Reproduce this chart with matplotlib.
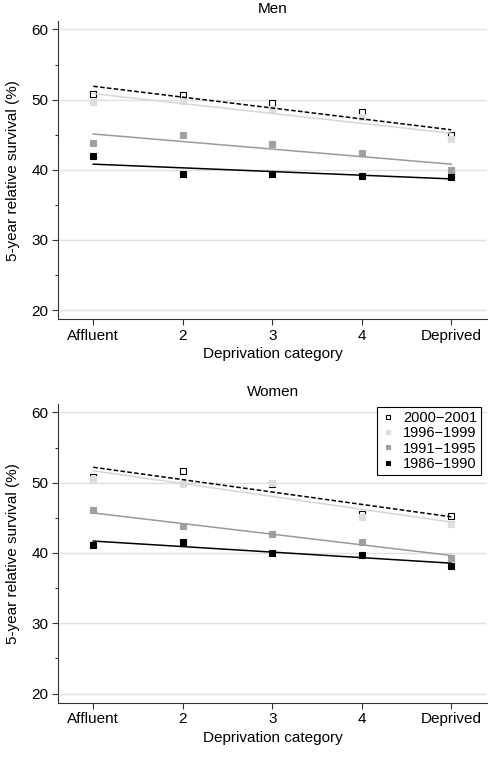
import matplotlib.pyplot as plt
import numpy as np

plt.rcParams['font.family'] = ['Liberation Sans', 'DejaVu Sans']
plt.rcParams['font.size'] = 11

# deprivation categories
categories = ['Affluent', '2', '3', '4', 'Deprived']
periods = ['2000\u22122001', '1996\u22121999', '1991\u22121995', '1986\u22121990']

men = {
    '2000\u22122001': [50.75, 50.65, 49.5, 48.2, 44.9],
    '1996\u22121999': [49.7, 49.8, 48.6, 47.5, 44.4],
    '1991\u22121995': [43.8, 44.9, 43.7, 42.4, 40.0],
    '1986\u22121990': [41.9, 39.4, 39.4, 39.1, 39.0],
}
women = {
    '2000\u22122001': [50.85, 51.65, 49.75, 45.6, 45.2],
    '1996\u22121999': [50.5, 49.75, 49.9, 45.15, 44.1],
    '1991\u22121995': [46.05, 43.8, 42.75, 41.6, 39.3],
    '1986\u22121990': [41.2, 41.5, 40.0, 39.65, 38.2],
}
# fitted trend values at Affluent and Deprived
men_fit = {
    '2000\u22122001': [51.9, 45.7],
    '1996\u22121999': [50.85, 45.2],
    '1991\u22121995': [45.1, 40.8],
    '1986\u22121990': [40.8, 38.7],
}
women_fit = {
    '2000\u22122001': [52.2, 45.15],
    '1996\u22121999': [51.7, 44.4],
    '1991\u22121995': [45.7, 39.65],
    '1986\u22121990': [41.7, 38.55],
}

styles = {
    '2000\u22122001': dict(mfc='white', mec='black', lc='black', ls=(0, (3, 1.5))),
    '1996\u22121999': dict(mfc='#dddddd', mec='#dddddd', lc='#d6d6d6', ls='-'),
    '1991\u22121995': dict(mfc='#a0a0a0', mec='#a0a0a0', lc='#9a9a9a', ls='-'),
    '1986\u22121990': dict(mfc='black', mec='black', lc='black', ls='-'),
}

fig = plt.figure(figsize=(4.9, 7.58), dpi=100)
ax1 = fig.add_axes([0.119, 0.5788, 0.875, 0.3935])
ax2 = fig.add_axes([0.119, 0.0730, 0.875, 0.3940])

x = np.arange(1, 6)

def draw(ax, data, fit, title, legend=False):
    for p in periods:
        s = styles[p]
        ax.plot(x, data[p], ls='none', marker='s', ms=4.5, mfc=s['mfc'],
                mec=s['mec'], mew=0.8, label=p, zorder=3)
    for p in periods:
        s = styles[p]
        ax.plot([x[0], x[-1]], fit[p], color=s['lc'], ls=s['ls'], lw=1.1, zorder=4)
    ax.set_xlim(0.61, 5.4)
    ax.set_ylim(18.7, 61.2)
    ax.set_xticks(x)
    ax.set_xticklabels(categories)
    ax.set_yticks([20, 30, 40, 50, 60])
    ax.set_yticks([25, 35, 45, 55], minor=True)
    ax.grid(axis='y', color='#e0e0e0', lw=1)
    ax.set_axisbelow(True)
    for sp in ['top', 'right']:
        ax.spines[sp].set_visible(False)
    for sp in ['left', 'bottom']:
        ax.spines[sp].set_linewidth(0.8)
        ax.spines[sp].set_color('#333333')
    ax.tick_params(which='major', length=4, width=0.8, color='#333333', pad=3, labelsize=11)
    ax.tick_params(which='minor', length=2.5, width=0.8, color='#333333')
    ax.set_xlabel('Deprivation category', fontsize=11, labelpad=3)
    ax.set_ylabel('5-year relative survival (%)', fontsize=11, labelpad=8)
    ax.set_title(title, fontsize=11, pad=6)
    if legend:
        leg = ax.legend(loc='upper right', bbox_to_anchor=(0.985, 0.99), borderaxespad=0,
                        fancybox=False, edgecolor='black', framealpha=1, fontsize=10.5,
                        markerscale=0.75, handlelength=1.0, handletextpad=0.5,
                        labelspacing=0.1, borderpad=0.25)
        leg.get_frame().set_linewidth(0.8)

draw(ax1, men, men_fit, 'Men')
draw(ax2, women, women_fit, 'Women', legend=True)

fig.savefig('out.png', dpi=100)
